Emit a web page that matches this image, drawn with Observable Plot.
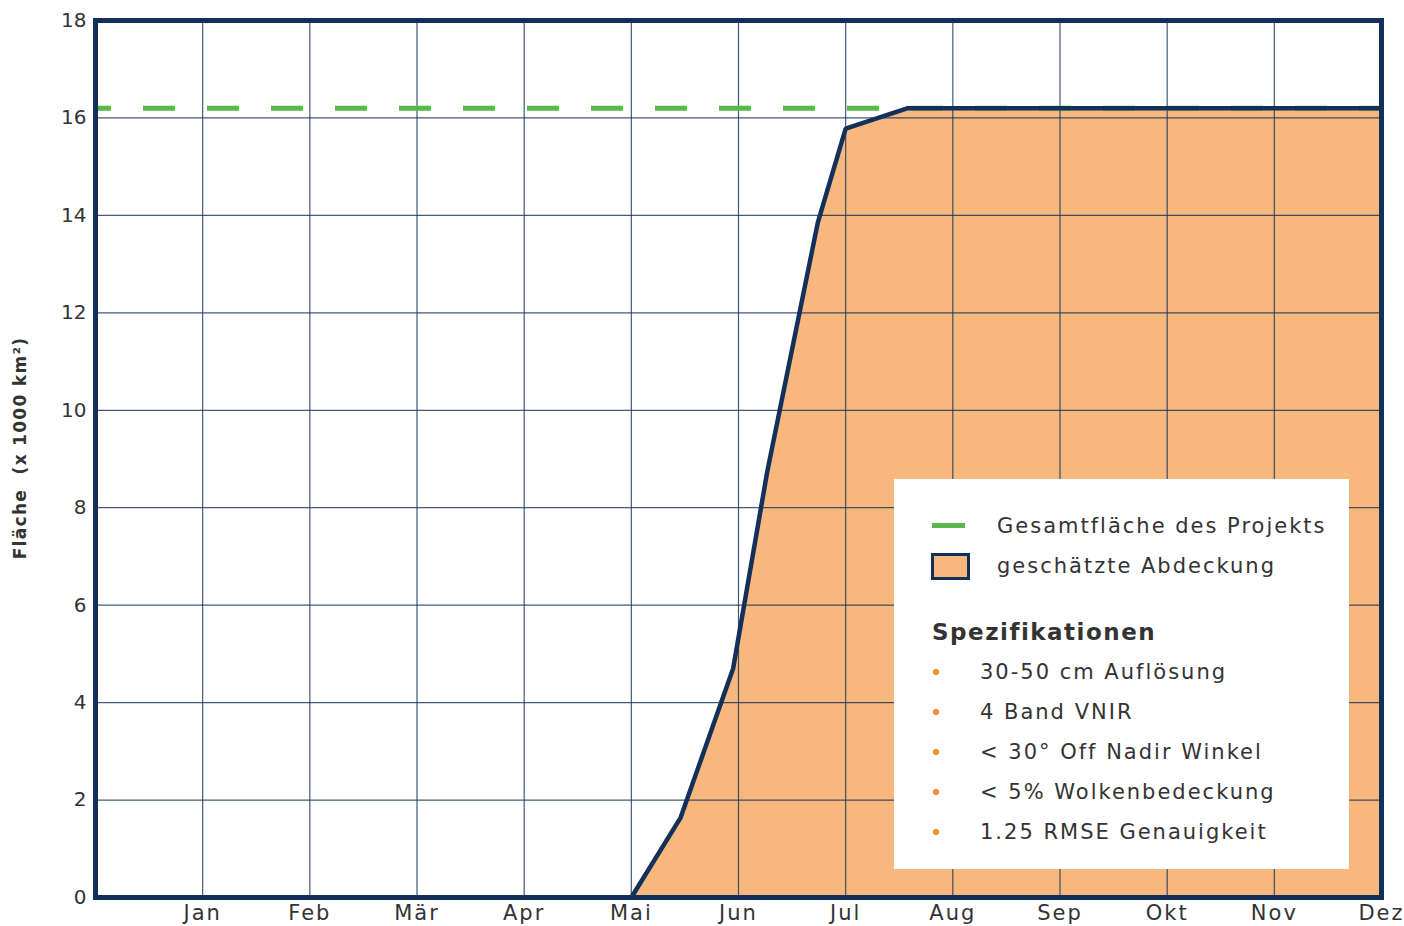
<!DOCTYPE html>
<html>
<head>
<meta charset="utf-8">
<script src="https://cdn.jsdelivr.net/npm/d3@7"></script>
<script src="https://cdn.jsdelivr.net/npm/@observablehq/plot@0.6"></script>
<style>
  html, body { margin: 0; padding: 0; background: #fff; }
  #wrap { position: relative; width: 1404px; height: 926px; overflow: hidden; font-family: "DejaVu Sans", sans-serif; color: #333; }
  #wrap svg g[aria-label="x-axis tick label"] text { letter-spacing: 2px; }
  #wrap svg g[aria-label="y-axis tick label"] text { letter-spacing: 0px; }
  #wrap svg g[aria-label="text"] text { letter-spacing: 1.3px; }
  #legend { position: absolute; left: 894px; top: 479px; width: 455px; height: 390px; background: #fff; }
  #legend .t { position: absolute; white-space: nowrap; line-height: 30px; font-size: 21px; letter-spacing: 2px; }
  #legend .sw-line { position: absolute; left: 38px; top: 44px; width: 33px; height: 5px; background: #56b948; }
  #legend .sw-rect { position: absolute; left: 37px; top: 74px; width: 39px; height: 27px; box-sizing: border-box; border: 3px solid #12305a; background: #f8b77c; }
  #legend .dot { position: absolute; left: 39px; width: 6px; height: 6px; border-radius: 3px; background: #f08a2c; }
</style>
</head>
<body>
<div id="wrap"></div>
<script>
const monthLabels = ["Jan", "Feb", "Mär", "Apr", "Mai", "Jun", "Jul", "Aug", "Sep", "Okt", "Nov", "Dez"];
const monthPos = [1, 2, 3, 4, 5, 6, 7, 8, 9, 10, 11, 12];
const yTicks = [0, 2, 4, 6, 8, 10, 12, 14, 16, 18];
const coverageMonth = [5, 5.46, 5.95, 6.27, 6.74, 7.0, 7.58, 12];
const coverageArea = [0, 1.64, 4.70, 8.76, 13.85, 15.78, 16.2, 16.2];
const totalArea = 16.2;
const yLabel = "Fläche  (x 1000 km²)";
const legendItems = ["Gesamtfläche des Projekts", "geschätzte Abdeckung"];
const specTitle = "Spezifikationen";
const specItems = ["30-50 cm Auflösung", "4 Band VNIR", "< 30° Off Nadir Winkel", "< 5% Wolkenbedeckung", "1.25 RMSE Genauigkeit"];

const navy = "#12305a";
const coverage = coverageMonth.map((m, i) => ({m, v: coverageArea[i]}));

const chart = Plot.plot({
  width: 1404,
  height: 926,
  marginLeft: 95,
  marginRight: 23,
  marginTop: 20,
  marginBottom: 29,
  style: {fontFamily: "DejaVu Sans, sans-serif", fontSize: "20px", color: "#333", background: "#fff"},
  x: {domain: [0, 12]},
  y: {domain: [0, 18]},
  marks: [
    Plot.areaY(coverage, {x: "m", y: "v", fill: "#f8b77c"}),
    Plot.ruleX(monthPos.slice(0, 11), {stroke: navy, strokeWidth: 1.2, strokeOpacity: 0.8}),
    Plot.ruleY(yTicks.slice(1, 9), {stroke: navy, strokeWidth: 1.2, strokeOpacity: 0.8}),
    Plot.ruleY([totalArea], {stroke: "#56b948", strokeWidth: 5, strokeDasharray: "32,32", strokeDashoffset: 16}),
    Plot.line(coverage, {x: "m", y: "v", stroke: navy, strokeWidth: 4.5, strokeLinejoin: "miter"}),
    Plot.axisX({ticks: monthPos, tickFormat: (d) => monthLabels[d - 1], tickSize: 0, tickPadding: 8, fontSize: 21, label: null}),
    Plot.axisY({ticks: yTicks, tickSize: 0, tickPadding: 9, fontSize: 20, label: null}),
    Plot.text([yLabel], {frameAnchor: "left", dx: -75, dy: -11, rotate: -90, textAnchor: "middle", fontWeight: "bold", fontSize: 17, fill: "#333"}),
    Plot.frame({stroke: navy, strokeWidth: 5})
  ]
});

const wrap = document.getElementById("wrap");
wrap.appendChild(chart);

const lg = document.createElement("div");
lg.id = "legend";
let html = `<div class="sw-line"></div><div class="sw-rect"></div>`;
html += `<div class="t" style="left:103px;top:32px">${legendItems[0]}</div>`;
html += `<div class="t" style="left:103px;top:72px">${legendItems[1]}</div>`;
html += `<div class="t" style="left:38px;top:138px;font-weight:bold;font-size:23px;letter-spacing:1.5px">${specTitle}</div>`;
specItems.forEach((s, i) => {
  const cy = 193 + i * 40;
  html += `<div class="dot" style="top:${cy - 3}px"></div>`;
  const esc = s.replace(/</g, "&lt;");
  html += `<div class="t" style="left:86px;top:${cy - 15}px">${esc}</div>`;
});
lg.innerHTML = html;
wrap.appendChild(lg);
</script>
</body>
</html>
